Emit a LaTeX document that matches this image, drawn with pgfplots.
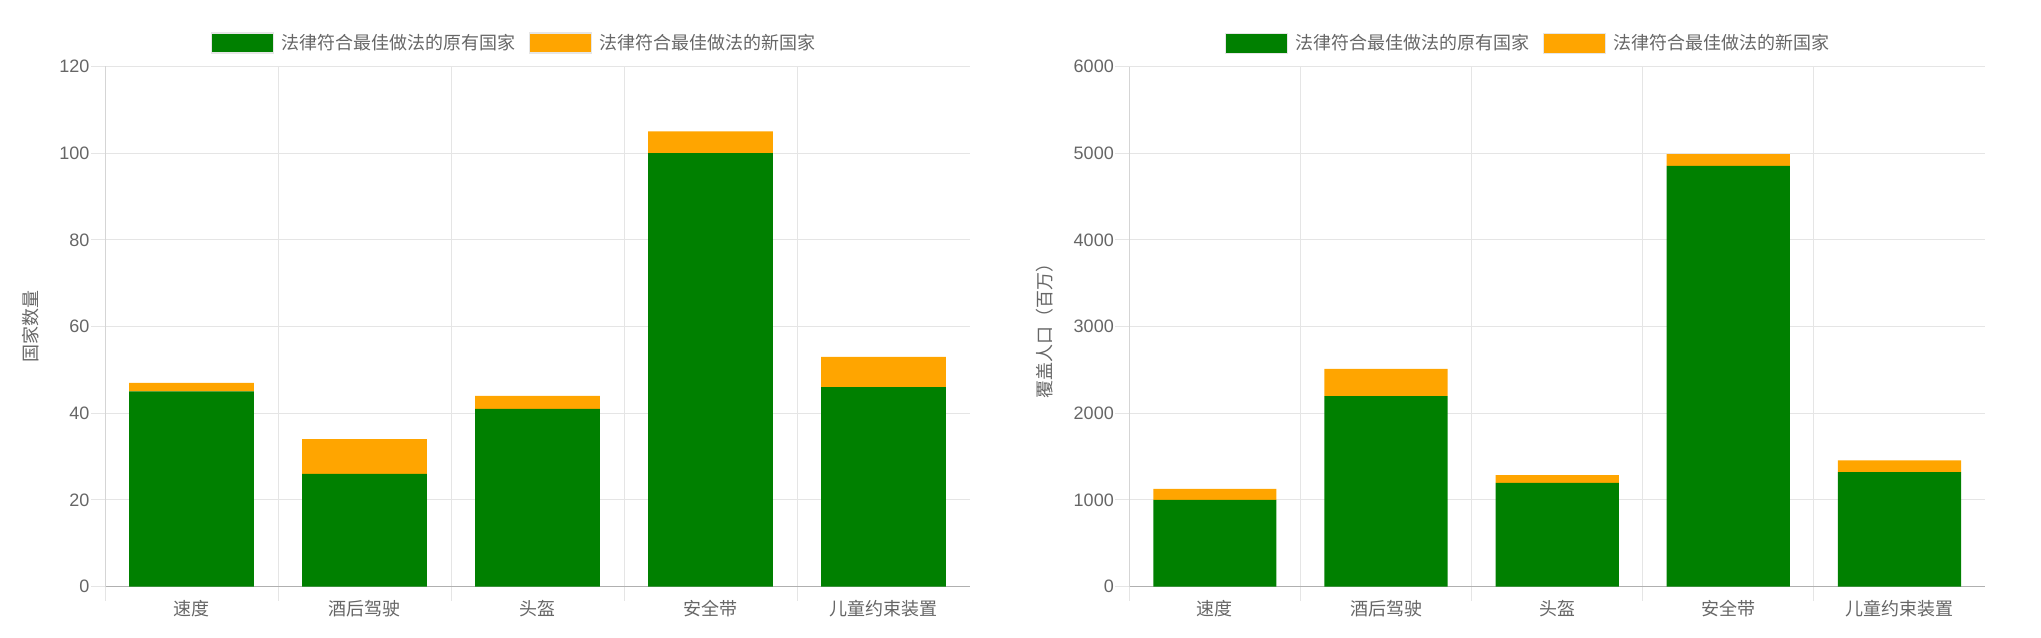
\documentclass[border=0pt]{standalone}
\usepackage{fontspec}
\setmainfont{Liberation Sans}
\newfontfamily\cjk{Noto Sans CJK SC}
\usepackage{pgfplots}
\usepackage{pgfplotstable}
\pgfplotsset{compat=1.18}
\definecolor{cgreen}{HTML}{008000}
\definecolor{corange}{HTML}{FFA500}
\definecolor{ctext}{HTML}{666666}
\definecolor{cgrid}{HTML}{E5E5E5}
\definecolor{caxis}{HTML}{D5D5D5}
\definecolor{czero}{HTML}{B0B0B0}
\definecolor{cborder}{HTML}{E6E6E6}

\pgfplotstableread{
x a b
0 45 2
1 26 8
2 41 3
3 100 5
4 46 7
}\countries

\pgfplotstableread{
x a b
0 1000 127
1 2196 316
2 1197 88
3 4854 136
4 1320 135
}\population

\newcommand{\fs}{\fontsize{18pt}{21pt}\selectfont}

\pgfplotsset{
  mychart/.style={
    scale only axis, anchor=south west, height=520pt,
    ybar stacked, bar width=0.72,
    xmin=-0.5, xmax=4.5, ymin=0,
    axis x line*=bottom, axis y line*=left,
    x axis line style={draw=czero, line width=1pt},
    y axis line style={draw=caxis, line width=1pt},
    xtick={-0.5,0.5,1.5,2.5,3.5}, xticklabels={},
    xmajorgrids, ymajorgrids,
    major grid style={draw=cgrid, line width=1pt},
    tick align=outside, major tick length=14pt,
    tick style={draw=cgrid, line width=1pt},
    extra x ticks={0,1,2,3,4},
    extra x tick labels={\cjk 速度,\cjk 酒后驾驶,\cjk 头盔,\cjk 安全带,\cjk 儿童约束装置},
    extra x tick style={grid=none, tick style={draw=none}},
    xticklabel style={font=\fs, text=ctext, yshift=4pt},
    yticklabel style={font=\fs, text=ctext, xshift=2pt},
    /pgf/number format/assume math mode=true,
    /pgf/number format/1000 sep={},
    ylabel style={font=\fs, text=ctext, anchor=center},
    legend columns=2,
    legend image code/.code={\draw[##1, draw=cborder, line width=1.2pt] (0pt,-10pt) rectangle (62pt,10pt);},
    legend style={draw=none, fill=none, font=\fs, text=ctext, anchor=center,
      /tikz/every odd column/.append style={column sep=5pt},
      /tikz/every even column/.append style={column sep=12pt}},
  }
}

\begin{document}
\begin{tikzpicture}[x=1pt,y=1pt]
\useasboundingbox (0,0) rectangle (2041,637);
\begin{axis}[mychart, at={(105pt,50.5pt)}, width=865pt,
  ymax=120, ytick={0,20,...,120},
  ylabel={\cjk 国家数量},
  ylabel style={at={(axis description cs:-0.0855,0.5)}},
  legend style={at={(axis description cs:0.473,1.045)}}]
\addplot[fill=cgreen, draw=none] table[x=x,y=a]{\countries};
\addplot[fill=corange, draw=none] table[x=x,y=b]{\countries};
\legend{\cjk 法律符合最佳做法的原有国家,\cjk 法律符合最佳做法的新国家}
\end{axis}
\begin{axis}[mychart, at={(1129.3pt,50.5pt)}, width=855.7pt,
  ymax=6000, ytick={0,1000,...,6000},
  ylabel={\cjk 覆盖人口（百万）},
  ylabel style={at={(axis description cs:-0.0985,0.5)}},
  legend style={at={(axis description cs:0.466,1.045)}}]
\addplot[fill=cgreen, draw=none] table[x=x,y=a]{\population};
\addplot[fill=corange, draw=none] table[x=x,y=b]{\population};
\legend{\cjk 法律符合最佳做法的原有国家,\cjk 法律符合最佳做法的新国家}
\end{axis}
\end{tikzpicture}
\end{document}
